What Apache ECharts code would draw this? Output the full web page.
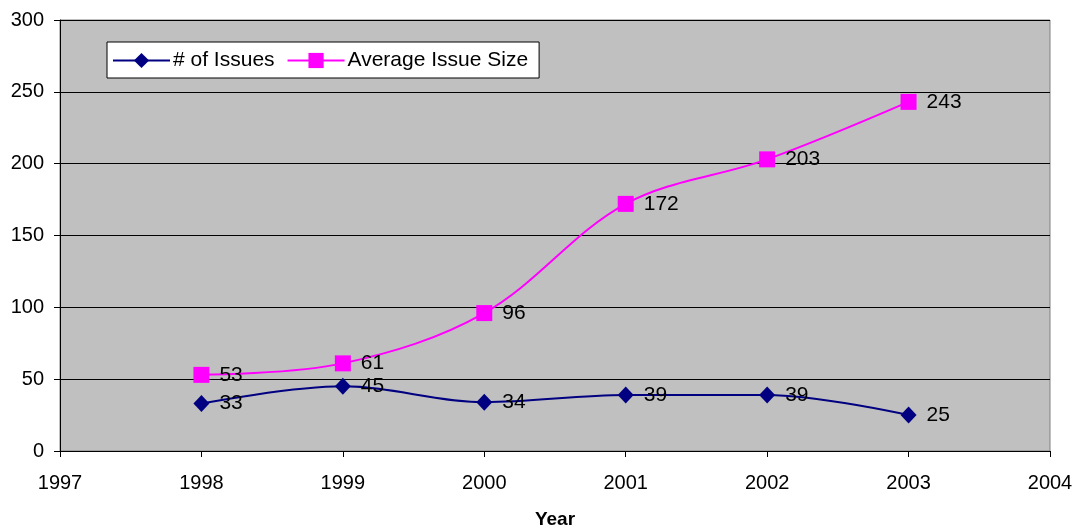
<!DOCTYPE html>
<html>
<head>
<meta charset="utf-8">
<script src="https://cdn.jsdelivr.net/npm/echarts@6/dist/echarts.min.js"></script>
<style>
  html, body { margin: 0; padding: 0; background: #ffffff; }
  #chart { width: 1075px; height: 531px; }
</style>
</head>
<body>
<div id="chart"></div>
<script>
// Publication statistics per year
const years = [1998, 1999, 2000, 2001, 2002, 2003];
const issueCounts = [33, 45, 34, 39, 39, 25];
const avgIssueSize = [53, 61, 96, 172, 203, 243];
const seriesNames = ['# of Issues', 'Average Issue Size'];

const FONT = 'Liberation Sans, Arial, sans-serif';

function pairs(xs, ys) {
  return xs.map((x, i) => [x, ys[i]]);
}

const labelStyle = {
  show: true,
  position: 'right',
  distance: 10,
  color: '#000000',
  fontFamily: FONT,
  fontSize: 21
};

const chart = echarts.init(document.getElementById('chart'), null, { renderer: 'canvas' });

chart.setOption({
  animation: false,
  backgroundColor: '#ffffff',
  grid: {
    left: 60, right: 25, top: 20, bottom: 80,
    outerBoundsMode: 'none',
    containLabel: false,
    show: true,
    backgroundColor: '#c0c0c0',
    borderColor: '#808080',
    borderWidth: 1
  },
  legend: {
    left: 107, top: 42,
    backgroundColor: '#ffffff',
    borderColor: '#000000',
    borderWidth: 1,
    padding: [8, 11, 7, 5],
    itemWidth: 57,
    itemHeight: 19,
    itemGap: 12,
    textStyle: { fontFamily: FONT, fontSize: 21, color: '#000000', padding: [0, 0, 0, -2] },
    data: seriesNames
  },
  xAxis: {
    type: 'value',
    min: 1997, max: 2004, interval: 1,
    name: 'Year',
    nameLocation: 'middle',
    nameGap: 59,
    nameTextStyle: { fontFamily: FONT, fontSize: 19, fontWeight: 'bold', color: '#000000' },
    splitLine: { show: false },
    axisLine: { lineStyle: { color: '#000000', width: 1 } },
    axisTick: { show: true, length: 6, inside: false, lineStyle: { color: '#000000' } },
    axisLabel: { fontFamily: FONT, fontSize: 20, color: '#000000', margin: 22, formatter: v => String(v) }
  },
  yAxis: {
    type: 'value',
    min: 0, max: 300, interval: 50,
    splitLine: { show: true, lineStyle: { color: '#000000', width: 1 } },
    axisLine: { show: true, lineStyle: { color: '#000000', width: 1 } },
    axisTick: { show: true, length: 6, lineStyle: { color: '#000000' } },
    axisLabel: { fontFamily: FONT, fontSize: 20, color: '#000000', margin: 16 }
  },
  series: [
    {
      name: seriesNames[0],
      type: 'line',
      smooth: 0.35,
      data: pairs(years, issueCounts),
      symbol: 'diamond',
      symbolSize: [16, 17],
      itemStyle: { color: '#000080' },
      lineStyle: { color: '#000080', width: 2 },
      label: labelStyle,
      z: 3
    },
    {
      name: seriesNames[1],
      type: 'line',
      smooth: 0.35,
      data: pairs(years, avgIssueSize),
      symbol: 'rect',
      symbolSize: 16,
      itemStyle: { color: '#ff00ff' },
      lineStyle: { color: '#ff00ff', width: 2 },
      label: labelStyle,
      z: 2
    }
  ]
});
</script>
</body>
</html>
